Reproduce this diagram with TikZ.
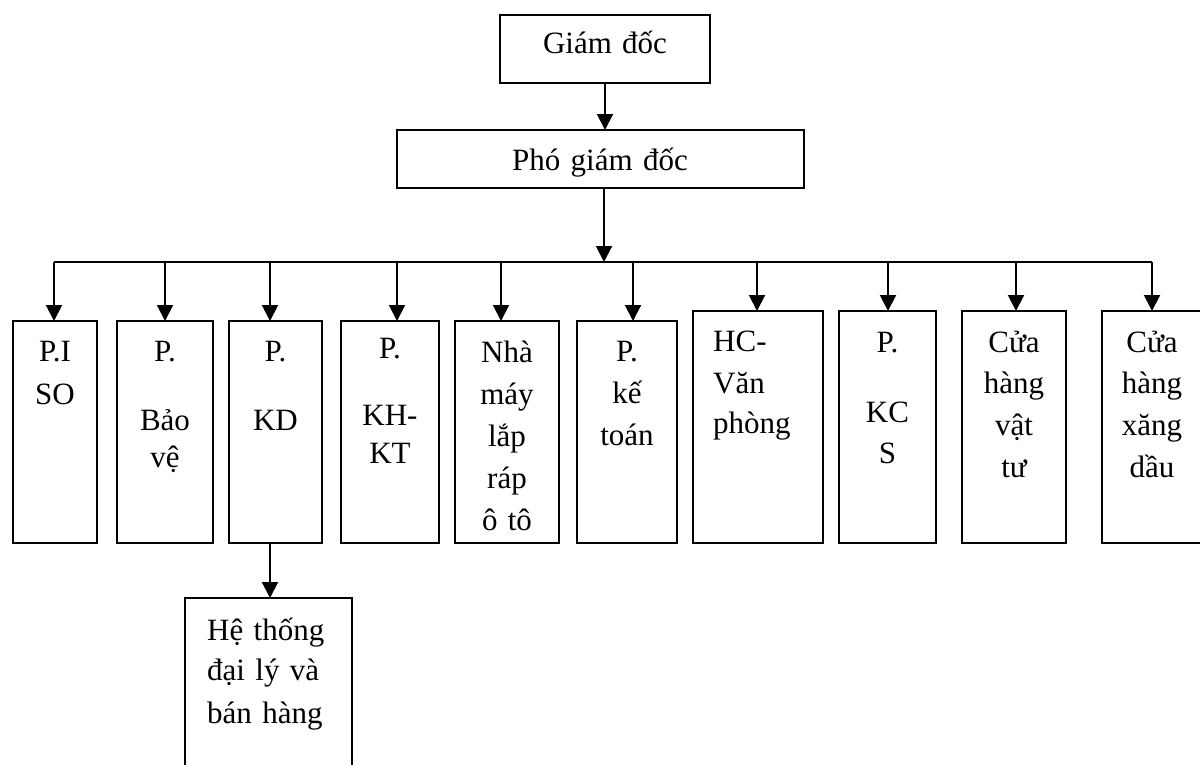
\documentclass[tikz,border=0pt]{standalone}
\usepackage{fontspec}
\setmainfont{Liberation Serif}
\usetikzlibrary{arrows.meta}
\begin{document}
\begin{tikzpicture}[x=1pt,y=-1pt,
  box/.style={draw,line width=2pt,rectangle,inner sep=0pt,outer sep=0pt,anchor=north west},
  lbl/.style={inner sep=0pt,font=\fontsize{31}{42}\selectfont,text width=240pt,align=center,anchor=base},
  lbll/.style={inner sep=0pt,font=\fontsize{31}{42}\selectfont,text width=160pt,align=left,anchor=base west},
  wire/.style={line width=2pt},
  arr/.style={line width=2pt,-{Triangle[width=16pt,length=16pt]}}]
\useasboundingbox (0,0) rectangle (1200,764);

% top of the chart
\node[box,minimum width=210pt,minimum height=68pt] (gd) at (500,15) {};
\node[lbl] (gdt) at (605,53) {Giám đốc};
\node[box,minimum width=407pt,minimum height=58pt] (pho) at (397,130) {};
\node[lbl] (phot) at (600,170) {Phó giám đốc};

% departments
\node[box,minimum width=84pt,minimum height=222pt] (b1) at (13,321) {};
\node[box,minimum width=96pt,minimum height=222pt] (b2) at (117,321) {};
\node[box,minimum width=93pt,minimum height=222pt] (b3) at (229,321) {};
\node[box,minimum width=98pt,minimum height=222pt] (b4) at (341,321) {};
\node[box,minimum width=104pt,minimum height=222pt] (b5) at (455,321) {};
\node[box,minimum width=100pt,minimum height=222pt] (b6) at (577,321) {};
\node[box,minimum width=130pt,minimum height=232pt] (b7) at (693,311) {};
\node[box,minimum width=97pt,minimum height=232pt] (b8) at (839,311) {};
\node[box,minimum width=104pt,minimum height=232pt] (b9) at (962,311) {};
\node[box,minimum width=110pt,minimum height=232pt] (b10) at (1102,311) {};
\node[box,minimum width=167pt,minimum height=180pt] (ht) at (185,598) {};

\node[lbl] (b1t) at (55,361) {P.I\\[1pt]SO};
\node[lbl] (b2t) at (165,361) {P.\\[27pt]Bảo\\[-5pt]vệ};
\node[lbl] (b3t) at (275.5,361) {P.\\[27pt]KD};
\node[lbl] (b4t) at (390,358) {P.\\[25pt]KH-\\[-4pt]KT};
\node[lbl] (b5t) at (507,362) {Nhà\\máy\\lắp\\ráp\\ô tô};
\node[lbl] (b6t) at (627,361) {P.\\kế\\toán};
\node[lbll] (b7t) at (713,351) {HC-\\Văn\\[-2pt]phòng};
\node[lbl] (b8t) at (887.5,352) {P.\\[28pt]KC\\[-1pt]S};
\node[lbl] (b9t) at (1014,352) {Cửa\\[-1pt]hàng\\vật\\tư};
\node[lbl] (b10t) at (1152,352) {Cửa\\[-1pt]hàng\\xăng\\dầu};
\node[lbll] (htt) at (207,640) {Hệ thống\\[-2pt]đại lý và\\[1pt]bán hàng};

% connectors
\draw[arr] (gd.south) -- (gd.south |- pho.north);
\coordinate (bus) at (604,262);
\draw[arr] (pho.south -| bus) -- (bus);
\coordinate (a1) at (54,262);
\coordinate (a2) at (165,262);
\coordinate (a3) at (270,262);
\coordinate (a4) at (397,262);
\coordinate (a5) at (501,262);
\coordinate (a6) at (633,262);
\coordinate (a7) at (757,262);
\coordinate (a8) at (888,262);
\coordinate (a9) at (1016,262);
\coordinate (a10) at (1152,262);
\draw[wire] (a1) -- (a10);
\foreach \i in {1,...,10}{
  \draw[arr] (a\i) -- (a\i |- b\i.north);
}
\coordinate (kdo) at ([xshift=-5.5pt]b3.south);
\draw[arr] (kdo) -- (kdo |- ht.north);
\end{tikzpicture}
\end{document}
